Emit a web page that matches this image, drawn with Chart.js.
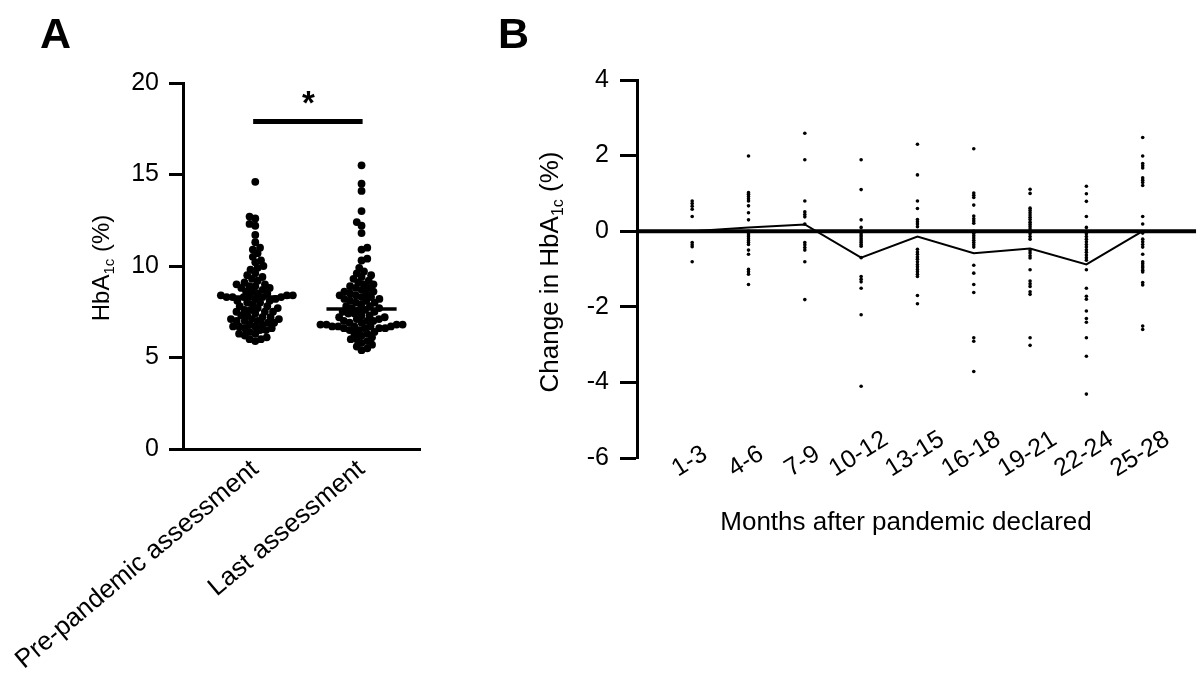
<!DOCTYPE html>
<html><head><meta charset="utf-8">
<script src="https://cdn.jsdelivr.net/npm/chart.js@4.4.1/dist/chart.umd.min.js"></script>
<style>
html,body{margin:0;padding:0;background:#fff;}
#wrap{position:relative;width:1198px;height:676px;overflow:hidden;background:#fff;}
#cA{position:absolute;left:0;top:0;}
#cB{position:absolute;left:500px;top:0;}
</style></head><body>
<div id="wrap">
<canvas id="cA" width="500" height="676"></canvas>
<canvas id="cB" width="698" height="676"></canvas>
</div>
<script>
// ---------- Panel A data ----------
const groupLabels = ['Pre-pandemic assessment', 'Last assessment'];
const prePandemic = [
  14.6, 12.7, 12.6, 12.3, 12.2, 11.7, 11.3, 11.0,
  10.9, 10.7, 10.5, 10.3, 10.2, 10.0,
  9.9, 9.8, 9.6, 9.5, 9.4, 9.3, 9.2, 9.1, 9.0, 9.0,
  8.9, 8.9, 8.8, 8.8, 8.7, 8.6, 8.6, 8.5, 8.5,
  8.4, 8.4, 8.4, 8.3, 8.3, 8.3, 8.3, 8.3, 8.3, 8.2, 8.2, 8.1, 8.1, 8.0, 8.0,
  7.9, 7.8, 7.8, 7.7, 7.7, 7.6, 7.6, 7.5, 7.5, 7.5,
  7.4, 7.3, 7.3, 7.2, 7.2, 7.1, 7.1, 7.1, 7.0, 7.0, 7.0,
  6.9, 6.9, 6.8, 6.8, 6.7, 6.7, 6.7, 6.6, 6.6, 6.5, 6.5,
  6.4, 6.3, 6.3, 6.2, 6.1, 6.0, 5.9, 6.0
];
const lastAssessment = [
  15.5, 14.5, 14.1, 13.0, 12.4, 12.2, 11.8, 11.0, 10.9, 10.4, 10.3,
  9.9, 9.7, 9.6, 9.5,
  9.4, 9.3, 9.2, 9.1, 9.0, 9.0,
  8.9, 8.8, 8.8, 8.7, 8.6, 8.6, 8.5, 8.5,
  8.4, 8.4, 8.3, 8.3, 8.2, 8.2, 8.1, 8.1, 8.0, 8.0,
  7.9, 7.8, 7.8, 7.7, 7.7, 7.6, 7.6, 7.5, 7.5,
  7.4, 7.4, 7.3, 7.3, 7.2, 7.2, 7.1, 7.1, 7.0, 7.0, 7.0,
  6.9, 6.9, 6.8, 6.8, 6.8, 6.8, 6.7, 6.7, 6.7, 6.7, 6.7, 6.6, 6.6, 6.6, 6.6, 6.5, 6.5,
  6.4, 6.3, 6.3, 6.2, 6.1, 6.0, 6.0,
  5.9, 5.8, 5.7, 5.6, 5.5, 5.4
];
const groupMedians = [8.3, 7.65];
const sigBarY = [17.9];
const sigText = ['*'];
const yTicksA = [0, 5, 10, 15, 20];

// ---------- Panel B data ----------
const monthBins = ['1-3', '4-6', '7-9', '10-12', '13-15', '16-18', '19-21', '22-24', '25-28'];
const change1to3 = [0.80, 0.73, 0.66, 0.58, 0.39, -0.30, -0.36, -0.41, -0.81];
const change4to6 = [1.99, 1.02, 0.98, 0.92, 0.86, 0.80, 0.67, 0.49, 0.30, 0, -0.05, -0.10, -0.15, -0.20, -0.25, -0.30, -0.35, -0.50, -0.61, -1.01, -1.07, -1.14, -1.41];
const change7to9 = [2.59, 1.89, 0.80, 0.51, 0.44, 0.38, 0.19, -0.30, -0.36, -0.43, -0.50, -0.81, -1.81];
const change10to12 = [1.89, 1.10, 0.30, 0.10, 0, -0.05, -0.10, -0.15, -0.20, -0.25, -0.30, -0.35, -0.40, -0.70, -1.20, -1.27, -1.34, -1.51, -2.21, -4.10];
const change13to15 = [2.30, 1.49, 0.80, 0.60, 0.31, 0.25, 0.19, 0.12, -0.48, -0.55, -0.61, -0.68, -0.74, -0.81, -0.88, -0.94, -1.01, -1.07, -1.14, -1.20, -1.70, -1.92];
const change16to18 = [2.18, 1.01, 0.95, 0.89, 0.69, 0.40, 0.33, 0.27, 0.21, 0, -0.06, -0.12, -0.18, -0.24, -0.30, -0.36, -0.42, -0.90, -1.11, -1.41, -1.62, -2.82, -2.91, -3.71];
const change19to21 = [1.11, 1.00, 0.61, 0.55, 0.49, 0.43, 0.37, 0.31, 0.24, 0.18, 0.12, 0.06, 0, -0.07, -0.14, -0.21, -0.52, -0.58, -0.65, -0.71, -1.02, -1.32, -1.39, -1.46, -1.60, -1.67, -2.82, -3.02];
const change22to24 = [1.19, 0.99, 0.79, 0.39, 0.10, 0, -0.07, -0.14, -0.21, -0.28, -0.35, -0.42, -0.49, -0.56, -0.63, -0.70, -0.77, -1.02, -1.51, -1.72, -1.80, -2.11, -2.31, -2.41, -2.82, -3.31, -4.31];
const change25to28 = [2.48, 1.99, 1.79, 1.73, 1.67, 1.41, 1.35, 1.29, 1.21, 0.39, 0.19, -0.05, -0.21, -0.28, -0.35, -0.42, -0.61, -0.81, -0.86, -0.92, -0.97, -1.03, -1.08, -1.36, -1.42, -2.51, -2.60];
const changeByBin = [change1to3, change4to6, change7to9, change10to12, change13to15, change16to18, change19to21, change22to24, change25to28];
const meanChange = [0, 0.10, 0.18, -0.70, -0.14, -0.58, -0.46, -0.88, 0];
const yTicksB = [-6, -4, -2, 0, 2, 4];
const xTitleB = 'Months after pandemic declared';

// ---------- common styling ----------
const FONT = '"Liberation Sans", Arial, Helvetica, sans-serif';
Chart.defaults.font.family = FONT;
Chart.defaults.color = '#000';

function drawRotatedTitle(ctx, cx, cy, parts) {
  ctx.save();
  ctx.translate(cx, cy);
  ctx.rotate(-Math.PI / 2);
  let total = 0;
  parts.forEach(p => { ctx.font = p.size + 'px ' + FONT; p.w = ctx.measureText(p.t).width; total += p.w; });
  let x = -total / 2;
  ctx.fillStyle = '#000';
  ctx.textBaseline = 'alphabetic';
  ctx.textAlign = 'left';
  parts.forEach(p => { ctx.font = p.size + 'px ' + FONT; ctx.fillText(p.t, x, 8 + (p.dy || 0)); x += p.w; });
  ctx.restore();
}

function swarmOffsets(values, yPx, xPx, d) {
  const order = values.map((v, i) => i).sort((a, b) => values[a] - values[b]);
  const placed = [];
  const out = new Array(values.length).fill(0);
  let flip = 1;
  for (const i of order) {
    const y = values[i] * yPx;
    const near = placed.filter(p => Math.abs(p.y - y) < d);
    const cands = [0];
    near.forEach(p => { const dx = Math.sqrt(d * d - (p.y - y) * (p.y - y)); cands.push(p.x + dx, p.x - dx); });
    cands.sort((a, b) => (Math.abs(a) - Math.abs(b)) || (flip * (a - b)));
    let chosen = 0;
    for (const c of cands) {
      if (near.every(p => (p.x - c) * (p.x - c) + (p.y - y) * (p.y - y) >= d * d - 0.01)) { chosen = c; break; }
    }
    flip = -flip;
    placed.push({ x: chosen, y });
    out[i] = chosen / xPx;
  }
  return out;
}

// ---------- Panel A ----------
const annotA = {
  id: 'annotA',
  afterDraw(chart) {
    const ctx = chart.ctx;
    const xs = chart.scales.x, ys = chart.scales.y;
    ctx.save();
    ctx.fillStyle = '#000';
    ctx.font = 'bold 43px ' + FONT;
    ctx.textAlign = 'left';
    ctx.textBaseline = 'alphabetic';
    ctx.fillText('A', 40, 48);
    ctx.font = 'bold 33px ' + FONT;
    ctx.textAlign = 'center';
    ctx.fillText(sigText[0], xs.getPixelForValue(0.5), ys.getPixelForValue(sigBarY[0]) - 7);
    ctx.restore();
    drawRotatedTitle(ctx, 101, 268, [
      { t: 'HbA', size: 24 }, { t: '1c', size: 15, dy: 5 }, { t: ' (%)', size: 24 }
    ]);
  }
};

const dotStyle = { pointRadius: 3.9, pointHoverRadius: 3.9, backgroundColor: '#000', borderColor: '#000', borderWidth: 0, order: 2 };
const lineStyle = { showLine: true, pointRadius: 0, pointHoverRadius: 0, borderColor: '#000', backgroundColor: '#000', order: 1 };

const chartA = new Chart(document.getElementById('cA'), {
  type: 'scatter',
  data: {
    datasets: [
      Object.assign({ label: groupLabels[0], data: prePandemic.map(v => ({ x: 0, y: v })) }, dotStyle),
      Object.assign({ label: groupLabels[1], data: lastAssessment.map(v => ({ x: 1, y: v })) }, dotStyle),
      Object.assign({ label: 'median pre', data: [{ x: -0.33, y: groupMedians[0] }, { x: 0.33, y: groupMedians[0] }], borderWidth: 3.5 }, lineStyle),
      Object.assign({ label: 'median last', data: [{ x: 0.67, y: groupMedians[1] }, { x: 1.33, y: groupMedians[1] }], borderWidth: 3.5 }, lineStyle),
      Object.assign({ label: 'significance', data: [{ x: -0.02, y: sigBarY[0] }, { x: 1.01, y: sigBarY[0] }], borderWidth: 5 }, lineStyle)
    ]
  },
  options: {
    responsive: false,
    animation: false,
    layout: { padding: { left: 0, top: 83, right: 80, bottom: 0 } },
    plugins: { legend: { display: false }, tooltip: { enabled: false } },
    scales: {
      x: {
        type: 'linear', min: -0.68, max: 1.55,
        afterFit: s => { s.height = 227; s.paddingLeft = 0; s.paddingRight = 0; },
        afterBuildTicks: s => { s.ticks = [{ value: 0 }, { value: 1 }]; },
        ticks: { callback: v => groupLabels[v] || '', minRotation: 40, maxRotation: 40, autoSkip: false, font: { size: 26 }, padding: 5, color: '#000' },
        grid: { display: false, drawTicks: false },
        border: { display: true, width: 3, color: '#000' }
      },
      y: {
        min: 0, max: 20,
        afterFit: s => { s.width = 183; },
        afterBuildTicks: s => { s.ticks = yTicksA.map(v => ({ value: v })); },
        ticks: { padding: 10, font: { size: 25 }, color: '#000' },
        grid: { drawOnChartArea: false, tickLength: 14, tickWidth: 3, tickColor: '#000' },
        border: { display: true, width: 3, color: '#000' }
      }
    }
  },
  plugins: [annotA]
});

(function layoutSwarm() {
  const ys = chartA.scales.y, xs = chartA.scales.x;
  const yPx = Math.abs(ys.getPixelForValue(1) - ys.getPixelForValue(0));
  const xPx = Math.abs(xs.getPixelForValue(1) - xs.getPixelForValue(0));
  const d = 6.0;
  const offPre = swarmOffsets(prePandemic, yPx, xPx, d);
  const offLast = swarmOffsets(lastAssessment, yPx, xPx, d);
  chartA.data.datasets[0].data = prePandemic.map((v, i) => ({ x: 0 + offPre[i], y: v }));
  chartA.data.datasets[1].data = lastAssessment.map((v, i) => ({ x: 1 + offLast[i], y: v }));
  chartA.update('none');
})();

// ---------- Panel B ----------
const annotB = {
  id: 'annotB',
  afterDraw(chart) {
    const ctx = chart.ctx;
    const xs = chart.scales.x;
    ctx.save();
    ctx.fillStyle = '#000';
    ctx.font = 'bold 43px ' + FONT;
    ctx.textAlign = 'left';
    ctx.textBaseline = 'alphabetic';
    ctx.fillText('B', -2, 48);
    const th = 32 * Math.PI / 180;
    ctx.font = '25px ' + FONT;
    monthBins.forEach((lab, i) => {
      const px = xs.getPixelForValue(i);
      const w = ctx.measureText(lab).width, h = 18;
      const bh = w * Math.sin(th) + h * Math.cos(th);
      ctx.save();
      ctx.translate(px - 3, 478 - bh / 2);
      ctx.rotate(-th);
      ctx.textAlign = 'center';
      ctx.textBaseline = 'middle';
      ctx.fillText(lab, 0, 1);
      ctx.restore();
    });
    ctx.font = '26px ' + FONT;
    ctx.textAlign = 'center';
    ctx.textBaseline = 'alphabetic';
    ctx.fillText(xTitleB, 906 - 500, 530);
    ctx.restore();
    drawRotatedTitle(ctx, 50, 272, [
      { t: 'Change in HbA', size: 26 }, { t: '1c', size: 16, dy: 5 }, { t: ' (%)', size: 26 }
    ]);
  }
};

const binDatasets = changeByBin.map((vals, i) => Object.assign({
  label: monthBins[i], data: vals.map(v => ({ x: i, y: v }))
}, { pointRadius: 1.8, pointHoverRadius: 1.8, backgroundColor: '#000', borderColor: '#000', borderWidth: 0, order: 2 }));

const chartB = new Chart(document.getElementById('cB'), {
  type: 'scatter',
  data: {
    datasets: [
      Object.assign({ label: 'zero', data: [{ x: -0.98, y: 0 }, { x: 8.95, y: 0 }], borderWidth: 4 }, lineStyle),
      Object.assign({ label: 'mean', data: meanChange.map((v, i) => ({ x: i, y: v })), borderWidth: 2 }, lineStyle)
    ].concat(binDatasets)
  },
  options: {
    responsive: false,
    animation: false,
    layout: { padding: { left: 0, top: 80, right: 0, bottom: 0 } },
    plugins: { legend: { display: false }, tooltip: { enabled: false } },
    scales: {
      x: {
        type: 'linear', min: -0.98, max: 8.95,
        afterFit: s => { s.height = 218; s.paddingLeft = 0; s.paddingRight = 0; },
        ticks: { display: false },
        grid: { display: false, drawTicks: false },
        border: { display: false }
      },
      y: {
        min: -6, max: 4,
        afterFit: s => { s.width = 137; },
        afterBuildTicks: s => { s.ticks = yTicksB.map(v => ({ value: v })); },
        ticks: { padding: 11, font: { size: 25 }, color: '#000' },
        grid: { drawOnChartArea: false, tickLength: 17, tickWidth: 3, tickColor: '#000' },
        border: { display: true, width: 3, color: '#000' }
      }
    }
  },
  plugins: [annotB]
});
</script>
</body></html>
